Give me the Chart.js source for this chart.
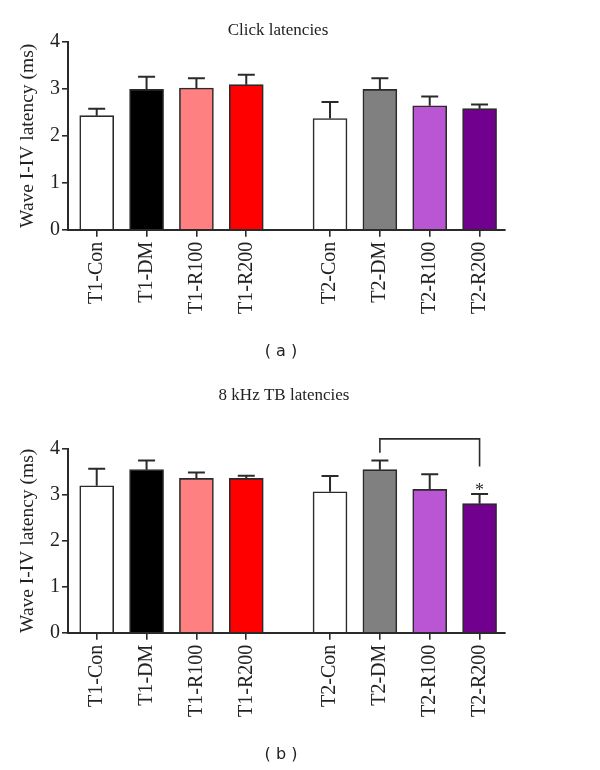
<!DOCTYPE html>
<html>
<head>
<meta charset="utf-8">
<script src="https://cdn.jsdelivr.net/npm/chart.js@4.4.1/dist/chart.umd.min.js"></script>
<style>
  html,body{margin:0;padding:0;background:#fff;}
  #wrap{position:relative;width:600px;height:770px;}
  canvas{position:absolute;left:0;}
</style>
</head>
<body>
<div id="wrap">
  <canvas id="c1" width="600" height="380" style="top:0"></canvas>
  <canvas id="c2" width="600" height="390" style="top:380px"></canvas>
</div>
<script>
// ---- data ----
const categories = ['T1-Con','T1-DM','T1-R100','T1-R200','T2-Con','T2-DM','T2-R100','T2-R200'];
const clickMean = [2.43, 2.99, 3.02, 3.09, 2.37, 2.99, 2.64, 2.58];
const clickSem  = [0.15, 0.27, 0.21, 0.21, 0.35, 0.24, 0.20, 0.09];
const tbMean    = [3.20, 3.55, 3.36, 3.36, 3.07, 3.55, 3.12, 2.81];
const tbSem     = [0.37, 0.20, 0.13, 0.06, 0.34, 0.20, 0.33, 0.21];
const yTicks    = [0, 1, 2, 3, 4];
const barColors = ['#FFFFFF','#000000','#FF8080','#FF0000','#FFFFFF','#808080','#BA55D3','#72008F'];

// ---- layout helpers ----
const GROUP_GAP = 0.68;
const xPos = categories.map((c, i) => i + (i >= 4 ? GROUP_GAP : 0));
const SERIF = '"Liberation Serif", "Times New Roman", serif';
const SANS = '"DejaVu Sans", Verdana, sans-serif';
const INK = '#2a2a2a';

function makeChart(canvasId, means, sems, opts) {
  const ctx = document.getElementById(canvasId);
  const annot = {
    id: 'annot_' + canvasId,
    afterDatasetsDraw(chart) {
      const c = chart.ctx;
      const xs = chart.scales.x, ys = chart.scales.y;
      c.save();
      // error bars (upper only)
      c.strokeStyle = INK;
      c.lineWidth = 2;
      means.forEach((m, i) => {
        const x = xs.getPixelForValue(xPos[i]);
        const y0 = ys.getPixelForValue(m);
        const y1 = ys.getPixelForValue(m + sems[i]);
        c.beginPath();
        c.moveTo(x, y0); c.lineTo(x, y1);
        c.moveTo(x - 8.5, y1); c.lineTo(x + 8.5, y1);
        c.stroke();
      });
      // significance bracket
      if (opts.bracket) {
        const b = opts.bracket;
        const xa = xs.getPixelForValue(xPos[b.from]);
        const xb = xs.getPixelForValue(xPos[b.to]);
        const yt = ys.getPixelForValue(b.top);
        c.lineWidth = 1.6;
        c.beginPath();
        c.moveTo(xa, ys.getPixelForValue(b.leftEnd));
        c.lineTo(xa, yt); c.lineTo(xb, yt);
        c.lineTo(xb, ys.getPixelForValue(b.rightEnd));
        c.stroke();
        c.fillStyle = INK;
        c.font = '18px ' + SERIF;
        c.textAlign = 'center';
        c.textBaseline = 'middle';
        c.fillText('*', xb, ys.getPixelForValue(b.star) + 4);
      }
      // title
      c.fillStyle = '#222';
      c.textAlign = 'center';
      c.textBaseline = 'middle';
      c.font = '17px ' + SERIF;
      c.fillText(opts.title, opts.titleX, opts.titleY);
      // y-axis title
      const ca = chart.chartArea;
      c.save();
      c.translate(28, (ca.top + ca.bottom) / 2);
      c.rotate(-Math.PI / 2);
      c.font = '19.5px ' + SERIF;
      c.fillText('Wave I-IV latency (ms)', 0, 0);
      c.restore();
      // panel label
      c.font = '16px ' + SANS;
      c.fillText(opts.panel, 281, opts.panelY);
      c.restore();
    }
  };
  return new Chart(ctx, {
    type: 'bar',
    data: {
      datasets: [{
        data: means.map((m, i) => ({x: xPos[i], y: m})),
        backgroundColor: barColors,
        borderColor: INK,
        borderWidth: 1.6,
        barThickness: 34,
        borderSkipped: 'bottom'
      }]
    },
    options: {
      responsive: false,
      animation: false,
      layout: {padding: {top: opts.top, right: 95, left: 0, bottom: 0}},
      plugins: {legend: {display: false}, tooltip: {enabled: false}, title: {display: false}},
      scales: {
        x: {
          type: 'linear',
          offset: false,
          min: -0.576,
          max: 8.19,
          afterBuildTicks(scale) { scale.ticks = xPos.map(v => ({value: v})); },
          afterFit(scale) { scale.height = opts.xAxisH; },
          ticks: {
            autoSkip: false,
            minRotation: 90, maxRotation: 90,
            padding: 5,
            color: '#222',
            font: {family: SERIF, size: 20},
            callback: (v, i) => categories[i]
          },
          grid: {display: true, offset: false, drawOnChartArea: false, drawTicks: true, tickLength: 7, color: INK, lineWidth: 1.6},
          border: {display: true, color: INK, width: 2}
        },
        y: {
          min: 0, max: 4,
          afterBuildTicks(scale) { scale.ticks = yTicks.map(v => ({value: v})); },
          afterFit(scale) { scale.width = 68; },
          ticks: {
            padding: 2,
            color: '#222',
            font: {family: SERIF, size: 20},
            callback: v => String(v)
          },
          grid: {display: true, drawOnChartArea: false, drawTicks: true, tickLength: 6, color: INK, lineWidth: 1.6},
          border: {display: true, color: INK, width: 2}
        }
      }
    },
    plugins: [annot]
  });
}

makeChart('c1', clickMean, clickSem, {
  top: 42, xAxisH: 150.3,
  title: 'Click latencies', titleX: 278, titleY: 31,
  panel: '( a )', panelY: 352
});
makeChart('c2', tbMean, tbSem, {
  top: 69, xAxisH: 137.3,
  title: '8 kHz TB latencies', titleX: 284, titleY: 16,
  panel: '( b )', panelY: 375,
  bracket: {from: 5, to: 7, top: 4.22, leftEnd: 3.92, rightEnd: 3.62, star: 3.17}
});
</script>
</body>
</html>
